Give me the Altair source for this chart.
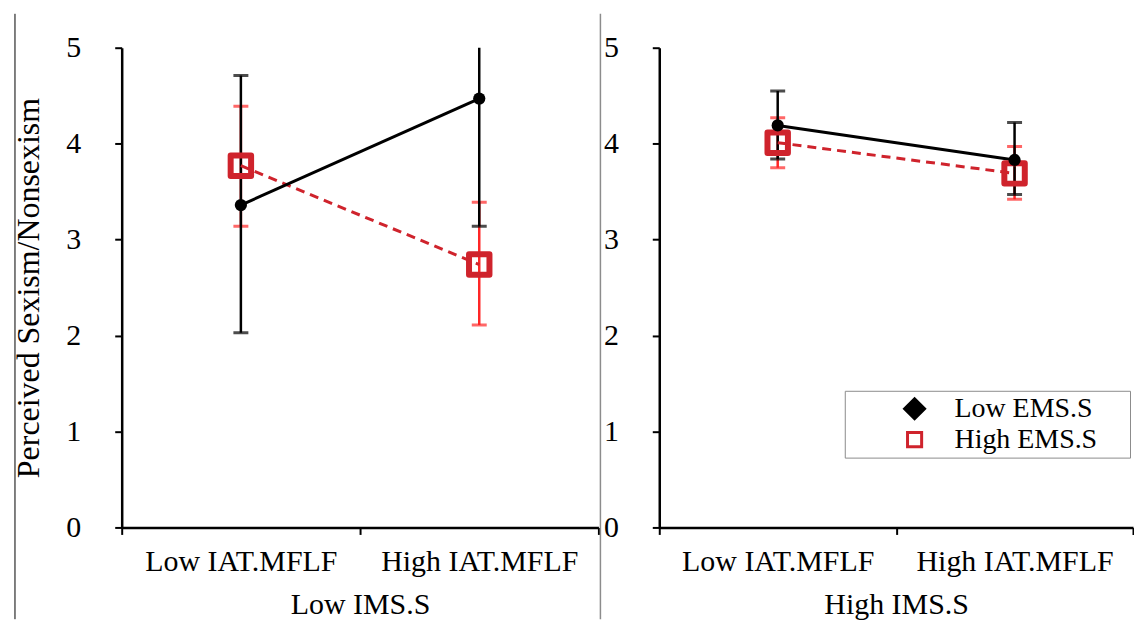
import altair as alt
import pandas as pd

# ---- data ----
ims_levels = ["Low IMS.S", "High IMS.S"]
iat_levels = ["Low IAT.MFLF", "High IAT.MFLF"]
ems_levels = ["Low EMS.S", "High EMS.S"]

ims = ["Low IMS.S", "Low IMS.S", "Low IMS.S", "Low IMS.S",
       "High IMS.S", "High IMS.S", "High IMS.S", "High IMS.S"]
iat = ["Low IAT.MFLF", "High IAT.MFLF", "Low IAT.MFLF", "High IAT.MFLF",
       "Low IAT.MFLF", "High IAT.MFLF", "Low IAT.MFLF", "High IAT.MFLF"]
ems = ["Low EMS.S", "Low EMS.S", "High EMS.S", "High EMS.S",
       "Low EMS.S", "Low EMS.S", "High EMS.S", "High EMS.S"]
mean = [3.36, 4.47, 3.77, 2.74, 4.19, 3.83, 4.01, 3.69]
lower = [2.03, 3.14, 3.14, 2.11, 3.84, 3.47, 3.75, 3.42]
upper = [4.71, 5.80, 4.39, 3.39, 4.55, 4.22, 4.27, 3.97]
y_ticks = [0, 1, 2, 3, 4, 5]
y_title = "Perceived Sexism/Nonsexism"

df = pd.DataFrame({"IMS": ims, "IAT": iat, "EMS": ems,
                   "mean": mean, "lower": lower, "upper": upper})
one = pd.DataFrame({"k": [0]})

FONT = "Liberation Serif"
BLACK = "#000000"
RED_MARK = "#cf232c"
RED_BAR = "#ff2626"
# trailing no-break spaces (kept by a final zero-width char) widen the legend box
PAD = "\u00a0" * 4 + "\u200b"


def panel(ims_val, first, width):
    base = alt.Chart(df).transform_filter(alt.datum.IMS == ims_val)
    x = alt.X("IAT:N", sort=iat_levels,
              scale=alt.Scale(type="band", paddingInner=0, paddingOuter=0),
              axis=alt.Axis(title=ims_val, tickBand="extent", labelAngle=0,
                            tickSize=7, tickWidth=2, tickColor=BLACK,
                            domainWidth=2.5, domainColor=BLACK,
                            labelPadding=12, labelFontSize=30, labelLimit=0,
                            titleFontSize=30, titlePadding=13,
                            titleFontWeight="normal"))
    yaxis = alt.Axis(values=y_ticks, grid=False, tickSize=7, tickWidth=2,
                     tickColor=BLACK, domainWidth=2.5, domainColor=BLACK,
                     labelPadding=34, labelFontSize=30,
                     title=y_title if first else None,
                     titleFontSize=32, titleFontWeight="normal",
                     titlePadding=20)
    yscale = alt.Scale(domain=[0, 5], nice=False, zero=True)
    y = alt.Y("mean:Q", scale=yscale, axis=yaxis)
    ylo = alt.Y("lower:Q", scale=yscale, axis=yaxis)
    yhi = alt.Y("upper:Q", scale=yscale, axis=yaxis)

    hi_f = alt.datum.EMS == "High EMS.S"
    lo_f = alt.datum.EMS == "Low EMS.S"

    red_bar = base.transform_filter(hi_f).mark_rule(
        color=RED_BAR, strokeWidth=2.5, clip=True).encode(x=x, y=ylo, y2="upper:Q")
    red_cap_lo = base.transform_filter(hi_f).mark_tick(
        color=RED_BAR, thickness=3, size=15, clip=True).encode(x=x, y=ylo)
    red_cap_hi = base.transform_filter(hi_f).mark_tick(
        color=RED_BAR, thickness=3, size=15, clip=True).encode(x=x, y=yhi)
    blk_bar = base.transform_filter(lo_f).mark_rule(
        color=BLACK, strokeWidth=2.5, clip=True).encode(x=x, y=ylo, y2="upper:Q")
    blk_cap_lo = base.transform_filter(lo_f).mark_tick(
        color=BLACK, thickness=3, size=15, clip=True).encode(x=x, y=ylo)
    blk_cap_hi = base.transform_filter(lo_f).mark_tick(
        color=BLACK, thickness=3, size=15, clip=True).encode(x=x, y=yhi)

    red_line = base.transform_filter(hi_f).mark_line(
        color=RED_MARK, strokeWidth=3, strokeDash=[9, 6]).encode(x=x, y=y)
    blk_line = base.transform_filter(lo_f).mark_line(
        color=BLACK, strokeWidth=3).encode(x=x, y=y)
    red_pts = base.transform_filter(hi_f).mark_point(
        shape="square", size=420, filled=False, color=RED_MARK,
        strokeWidth=6, opacity=1, strokeJoin="round").encode(x=x, y=y)
    blk_pts = base.transform_filter(lo_f).mark_point(
        shape="circle", size=150, filled=True, color=BLACK,
        opacity=1).encode(x=x, y=y)

    layers = [red_bar, red_cap_lo, red_cap_hi, blk_bar, blk_cap_lo, blk_cap_hi,
              red_line, blk_line, red_pts, blk_pts]

    if first:
        divider = alt.Chart(one).mark_rule(color=BLACK, strokeWidth=1).encode(
            x=alt.value(-107), y=alt.value(-34), y2=alt.value(573))
        divider2 = alt.Chart(one).mark_rule(color="#8c8c8c", strokeWidth=1.5).encode(
            x=alt.value(width + 2), y=alt.value(-34), y2=alt.value(573))
        layers += [divider, divider2]
    else:
        leg = alt.Legend(title=None, orient="none", legendX=725, legendY=344,
                         strokeColor="#8c8c8c", fillColor="white", padding=4,
                         symbolOffset=52, labelOffset=26, rowPadding=1,
                         labelFontSize=28, labelFont=FONT, symbolOpacity=1,
                         symbolStrokeWidth=3, labelLimit=600,
                         labelExpr="datum.label + '" + PAD + "'")
        legend_layer = base.mark_point(opacity=0, filled=False).encode(
            x=x, y=y,
            shape=alt.Shape("EMS:N", scale=alt.Scale(domain=ems_levels,
                            range=["diamond", "square"]), legend=leg),
            fill=alt.Fill("EMS:N", scale=alt.Scale(domain=ems_levels,
                          range=[BLACK, "white"]), legend=leg),
            stroke=alt.Stroke("EMS:N", scale=alt.Scale(domain=ems_levels,
                              range=[BLACK, RED_MARK]), legend=leg),
            size=alt.Size("EMS:N", scale=alt.Scale(domain=ems_levels,
                          range=[400, 200]), legend=leg),
        )
        layers += [legend_layer]

    return alt.layer(*layers).properties(width=width, height=481)


left = panel("Low IMS.S", True, 478)
right = panel("High IMS.S", False, 475)

chart = alt.hconcat(left, right, spacing=2).properties(
    padding={"left": 5, "top": 4, "right": 0, "bottom": 0}
).configure(font=FONT).configure_view(stroke=None).configure_axis(
    labelFont=FONT, titleFont=FONT, labelColor=BLACK, titleColor=BLACK
)

chart.save("out.html", embed_options={"renderer": "svg", "actions": False})
